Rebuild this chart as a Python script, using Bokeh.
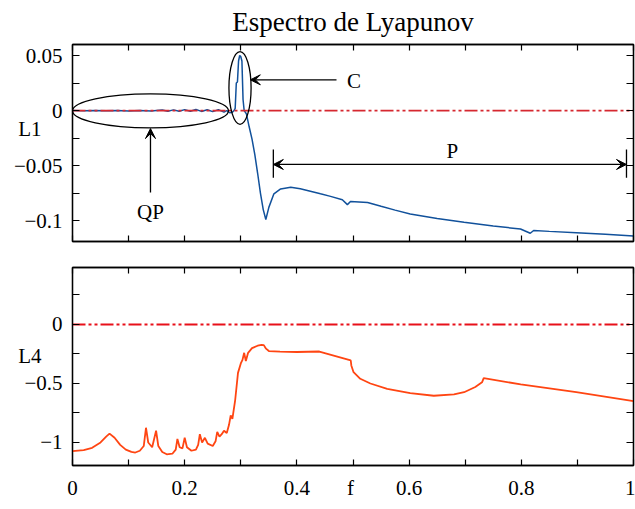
from bokeh.plotting import figure
from bokeh.models import FixedTicker, LinearAxis, Label, Arrow, VeeHead, Range1d, Title
from bokeh.layouts import column
from bokeh.embed import file_html
from bokeh.resources import INLINE

FONT = "Liberation Serif"

# ---- data ----
f_l1 = [0, 0.02, 0.04, 0.06, 0.08, 0.10, 0.12, 0.14, 0.16, 0.17, 0.18, 0.19, 0.20, 0.21,
        0.22, 0.23, 0.24, 0.25, 0.26, 0.27, 0.275, 0.28, 0.285, 0.288, 0.29, 0.292, 0.294,
        0.296, 0.298, 0.300, 0.302, 0.304, 0.306, 0.31, 0.315, 0.32, 0.325, 0.33, 0.335,
        0.34, 0.3446, 0.35, 0.359, 0.371, 0.389, 0.406, 0.442, 0.46, 0.481, 0.49, 0.4955,
        0.526, 0.55, 0.575, 0.602, 0.65, 0.698, 0.75, 0.7986, 0.816, 0.822, 0.85, 0.898,
        0.95, 1.0]
l1 = [0, -0.0003, 0, -0.0003, 0.0, -0.0005, 0, -0.0004, 0.0005, -0.0006, 0.0006, -0.0007,
      0.0008, -0.0007, 0.001, -0.0008, 0.0007, -0.001, 0.0008, -0.0015, 0.0, -0.002, -0.0015,
      0.0, 0.002, 0.025, 0.026, 0.045, 0.05, 0.049, 0.045, 0.01, 0.0, -0.003, -0.015, -0.026,
      -0.04, -0.057, -0.075, -0.09, -0.099, -0.088, -0.0757, -0.0712, -0.0697, -0.071,
      -0.0757, -0.078, -0.081, -0.0855, -0.0827, -0.0836, -0.087, -0.0905, -0.094, -0.098,
      -0.1015, -0.105, -0.1076, -0.1115, -0.109, -0.1098, -0.111, -0.1125, -0.114]

f_l4 = [0, 0.02, 0.035, 0.05, 0.06, 0.066, 0.075, 0.085, 0.095, 0.105, 0.112, 0.12, 0.127,
        0.131, 0.135, 0.142, 0.149, 0.153, 0.16, 0.168, 0.178, 0.184, 0.187, 0.191, 0.196,
        0.2, 0.204, 0.212, 0.22, 0.224, 0.227, 0.231, 0.236, 0.241, 0.25, 0.255, 0.258,
        0.262, 0.266, 0.27, 0.275, 0.279, 0.282, 0.285, 0.29, 0.295, 0.3, 0.303, 0.306,
        0.309, 0.313, 0.32, 0.33, 0.337, 0.341, 0.345, 0.35, 0.37, 0.40, 0.44, 0.496, 0.497,
        0.501, 0.513, 0.531, 0.561, 0.602, 0.644, 0.68, 0.698, 0.718, 0.73, 0.733, 0.799,
        0.898, 1.0]
l4 = [-1.073, -1.065, -1.045, -1.0, -0.95, -0.925, -0.96, -1.02, -1.06, -1.08, -1.085,
      -1.07, -1.03, -0.875, -1.0, -1.04, -0.9, -1.03, -1.08, -1.1, -1.095, -1.06, -0.97,
      -1.04, -1.05, -0.96, -1.04, -1.07, -1.06, -1.02, -0.93, -1.0, -0.96, -1.01, -1.03,
      -0.99, -0.91, -0.95, -0.93, -0.9, -0.92, -0.85, -0.77, -0.8, -0.64, -0.41, -0.33,
      -0.3, -0.24, -0.31, -0.24, -0.2, -0.18, -0.172, -0.175, -0.205, -0.225, -0.23, -0.233,
      -0.229, -0.305, -0.347, -0.404, -0.46, -0.5, -0.545, -0.582, -0.604, -0.593, -0.574,
      -0.53, -0.49, -0.455, -0.508, -0.574, -0.65]

zero_x = [0, 1]
zero_y = [0, 0]

# tick positions and labels (axis titles L1, L4 and f sit among the tick labels)
x_ticks = [0, 0.2, 0.4, 0.4955, 0.6, 0.8, 1.0]
x_tick_labels = ["0", "0.2", "0.4", "f", "0.6", "0.8", "1"]
x_marks = [0, 0.1, 0.2, 0.3, 0.4, 0.5, 0.6, 0.7, 0.8, 0.9, 1.0]
l1_ticks = [-0.1, -0.05, -0.0164, 0, 0.05]
l1_tick_labels = ["\u22120.1", "\u22120.05", "L1\u2002\u2002", "0", "0.05"]
l1_marks = [-0.1, -0.075, -0.05, -0.025, 0, 0.025, 0.05]
l4_ticks = [-1, -0.5, -0.263, 0]
l4_tick_labels = ["\u22121", "\u22120.5", "L4\u2002\u2002", "0"]
l4_marks = [-1, -0.75, -0.5, -0.25, 0, 0.25]

# annotations (top panel)
ell_x = [0.139, 0.2986]
ell_y = [-0.0003, 0.0205]
ell_w = [0.278, 0.0395]
ell_h = [0.0309, 0.066]
ann_text = ["QP", "C", "P"]
ann_tx = [0.139, 0.502, 0.677]
ann_ty = [-0.092, 0.0264, -0.0364]


def style_axis(ax, ticks, marks, labels, show, mark_len):
    if show:
        # labels on zero-length major ticks, tick marks drawn as minor ticks
        ax.ticker = FixedTicker(ticks=ticks, minor_ticks=marks)
        ax.major_label_overrides = {t: s for t, s in zip(ticks, labels)}
        ax.major_label_text_font = FONT
        ax.major_label_text_font_size = "21px"
        ax.major_label_text_color = "black"
        ax.major_label_standoff = 10
    else:
        ax.ticker = FixedTicker(ticks=[], minor_ticks=marks)
    ax.major_tick_in = 0
    ax.major_tick_out = 0
    ax.minor_tick_in = mark_len
    ax.minor_tick_out = 0
    ax.axis_line_color = "black"
    ax.axis_line_width = 1.3
    ax.minor_tick_line_width = 1.2


def make_fig(height, yr, yticks, ymarks, ylabels, show_x, bt, bb):
    p = figure(width=635, height=height, x_range=Range1d(0, 1), y_range=yr,
               output_backend="svg", toolbar_location=None,
               min_border_left=72, min_border_right=2, min_border_top=bt,
               min_border_bottom=bb)
    p.xgrid.visible = False
    p.ygrid.visible = False
    p.outline_line_color = "black"
    p.outline_line_width = 1.3
    style_axis(p.xaxis[0], x_ticks, x_marks, x_tick_labels, show_x, 6)
    style_axis(p.yaxis[0], yticks, ymarks, ylabels, True, 7)
    top_ax = LinearAxis()
    style_axis(top_ax, x_ticks, x_marks, x_tick_labels, False, 6)
    p.add_layout(top_ax, "above")
    right_ax = LinearAxis()
    style_axis(right_ax, yticks, ymarks, ylabels, False, 7)
    p.add_layout(right_ax, "right")
    return p


# ---- top panel ----
p1 = make_fig(250, Range1d(-0.119, 0.06), l1_ticks, l1_marks, l1_tick_labels, False, 44, 9)
p1.title = Title(text="Espectro de Lyapunov", align="center", text_font=FONT,
                 text_font_size="27px", text_font_style="normal", text_color="black",
                 vertical_align="top", standoff=12)
p1.line(f_l1, l1, line_color="#11519b", line_width=1.5)
p1.line(zero_x, zero_y, line_color="#d62830", line_width=1.8, line_dash="13 3 3 3 3 3")
p1.ellipse(x=ell_x, y=ell_y, width=ell_w, height=ell_h, fill_alpha=0,
           line_color="black", line_width=1.3)

head = dict(size=10, fill_color="black", line_color="black", line_width=1)
p1.add_layout(Arrow(end=VeeHead(**head), x_start=0.139, y_start=-0.0745, x_end=0.139,
                    y_end=-0.0164, line_width=1.3))
p1.add_layout(Arrow(end=VeeHead(**head), x_start=0.4706, y_start=0.0279, x_end=0.317,
                    y_end=0.0279, line_width=1.3))
p1.add_layout(Arrow(start=VeeHead(**head), end=VeeHead(**head), x_start=0.358,
                    y_start=-0.049, x_end=0.9875, y_end=-0.049, line_width=1.3))
p1.segment(x0=[0.358, 0.9875], y0=[-0.0355, -0.0355], x1=[0.358, 0.9875],
           y1=[-0.061, -0.061], line_color="black", line_width=1.3)
for t, x, y in zip(ann_text, ann_tx, ann_ty):
    p1.add_layout(Label(x=x, y=y, text=t, text_align="center", text_baseline="middle",
                        text_font=FONT, text_font_size="21px", text_color="black"))

# ---- bottom panel ----
p2 = make_fig(259, Range1d(-1.195, 0.483), l4_ticks, l4_marks, l4_tick_labels, True, 17, 44)
p2.line(f_l4, l4, line_color="#ff4512", line_width=1.8)
p2.line(zero_x, zero_y, line_color="#e8101a", line_width=1.8, line_dash="13 3 3 3 3 3")

layout = column(p1, p2, spacing=0)
open("out.html", "w").write(file_html(layout, INLINE))
